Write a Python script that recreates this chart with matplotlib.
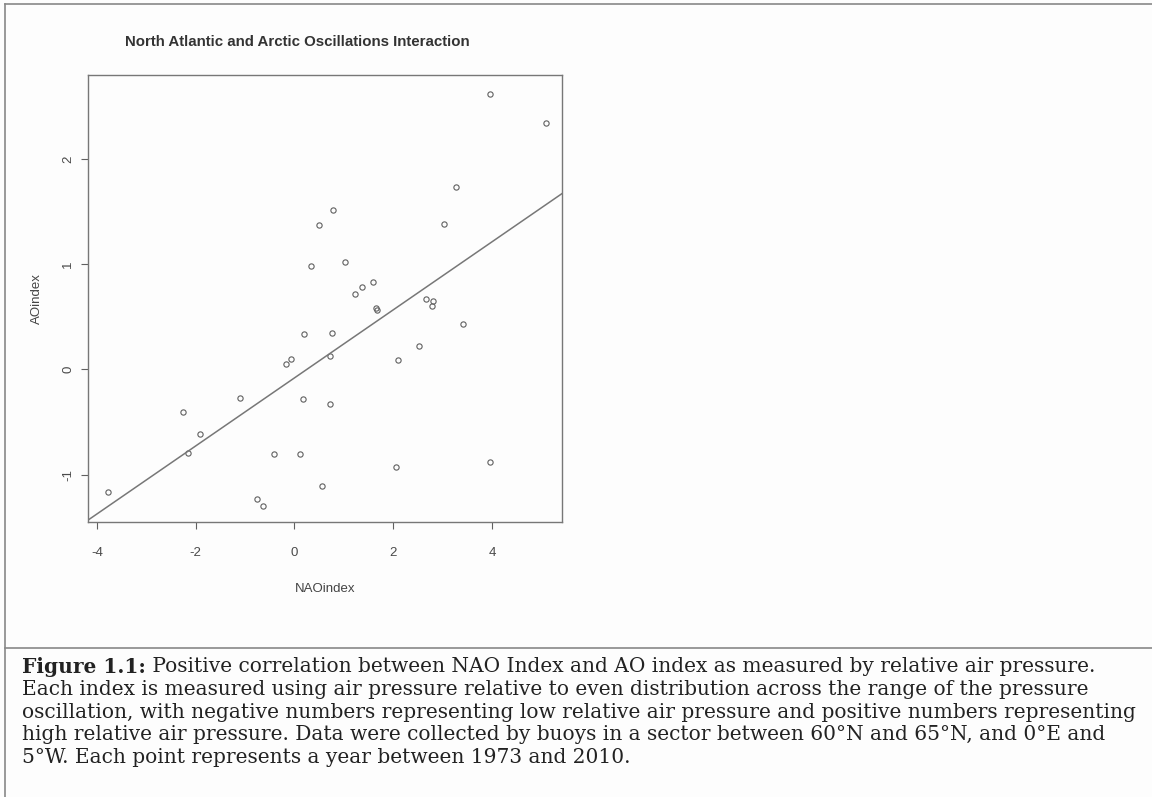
import numpy as np
import matplotlib
matplotlib.use("Agg")
import matplotlib.pyplot as plt
from matplotlib.lines import Line2D

plt.rcParams["axes.unicode_minus"] = False

# NAO vs AO index, one point per year 1973-2010
nao_index = [3.96, 5.09, 3.28, 0.78, 0.49, 3.02, 1.03, 0.34, 1.60, 1.36,
             1.22, 1.65, 1.68, 2.66, 2.81, 2.78, 3.42, 0.20, 0.76, 0.73,
             -0.18, -0.07, 2.09, 2.52, -1.10, 0.17, 0.73, -2.25, -1.91, -2.15,
             -0.42, 0.12, 2.06, 3.96, 0.55, -3.78, -0.75, -0.64]
ao_index = [2.62, 2.34, 1.73, 1.52, 1.37, 1.38, 1.02, 0.98, 0.83, 0.78,
            0.72, 0.58, 0.57, 0.67, 0.65, 0.60, 0.43, 0.34, 0.35, 0.13,
            0.05, 0.10, 0.09, 0.22, -0.27, -0.28, -0.33, -0.40, -0.61, -0.79,
            -0.80, -0.80, -0.93, -0.88, -1.11, -1.16, -1.23, -1.30]
x_ticks = [-4, -2, 0, 2, 4]
y_ticks = [-1, 0, 1, 2]

title = "North Atlantic and Arctic Oscillations Interaction"
caption_bold = "Figure 1.1:"
caption_lines = [
    " Positive correlation between NAO Index and AO index as measured by relative air pressure.",
    "Each index is measured using air pressure relative to even distribution across the range of the pressure",
    "oscillation, with negative numbers representing low relative air pressure and positive numbers representing",
    "high relative air pressure. Data were collected by buoys in a sector between 60°N and 65°N, and 0°E and",
    "5°W. Each point represents a year between 1973 and 2010.",
]

grey = "#606060"
fig = plt.figure(figsize=(11.52, 7.97), dpi=100, facecolor="#fdfdfd")
ax = fig.add_axes([0.0764, 0.345, 0.4115, 0.561])
ax.set_facecolor("#fdfdfd")

ax.plot(nao_index, ao_index, "o", mfc="none", mec=grey, ms=3.8, mew=0.8)

# least squares line across the whole panel
slope, intercept = np.polyfit(nao_index, ao_index, 1)
ax.axline((0, intercept), slope=slope, color="#777777", lw=1.1)

ax.set_xlim(-4.18, 5.42)
ax.set_ylim(-1.45, 2.80)
ax.set_xticks(x_ticks)
ax.set_yticks(y_ticks)
ax.tick_params(direction="out", length=5, width=0.8, color=grey,
               labelcolor="#4a4a4a", labelsize=9.5)
ax.tick_params(axis="x", pad=13)
ax.tick_params(axis="y", pad=5)
for lab in ax.get_yticklabels():
    lab.set_rotation(90)
    lab.set_va("center")
for sp in ax.spines.values():
    sp.set_color("#777777")
    sp.set_linewidth(1.0)

sans = ["Liberation Sans", "DejaVu Sans"]
for lab in ax.get_xticklabels() + ax.get_yticklabels():
    lab.set_family(sans)
ax.set_xlabel("NAOindex", family=sans, fontsize=9.5, color="#444444", labelpad=17)
ax.set_ylabel("AOindex", family=sans, fontsize=9.5, color="#444444", labelpad=14)
fig.text(297 / 1152, 1 - 42 / 797, title, family=sans, weight="bold",
         fontsize=10.8, color="#333333", ha="center", va="center")

# frame around figure and caption
border = dict(color="#888888", lw=1.2)
fig.add_artist(Line2D([5 / 1152, 5 / 1152], [0, 1 - 4 / 797], **border))
fig.add_artist(Line2D([5 / 1152, 1], [1 - 4 / 797, 1 - 4 / 797], **border))
fig.add_artist(Line2D([5 / 1152, 1], [1 - 648 / 797, 1 - 648 / 797], **border))

serif = ["DejaVu Serif"]
cap_size = 14.5
x0 = 22 / 1152
y_first = 667
line_gap = 22.6
bold_txt = fig.text(x0, 1 - y_first / 797, caption_bold, family=serif,
                    weight="bold", fontsize=cap_size, color="#222222", va="center")
fig.canvas.draw()
bb = bold_txt.get_window_extent(fig.canvas.get_renderer())
for i, line in enumerate(caption_lines):
    x = bb.x1 / fig.bbox.width if i == 0 else x0
    fig.text(x, 1 - (y_first + i * line_gap) / 797, line, family=serif,
             fontsize=cap_size, color="#222222", va="center")

fig.savefig("out.png", dpi=100, facecolor=fig.get_facecolor())
